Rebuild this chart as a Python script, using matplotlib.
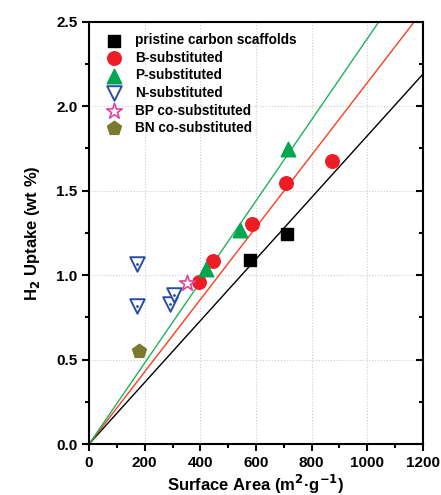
import numpy as np
import matplotlib
matplotlib.use('Agg')
import matplotlib.pyplot as plt
from matplotlib.ticker import MultipleLocator

plt.rcParams['font.family'] = ['Liberation Sans', 'DejaVu Sans']
plt.rcParams['font.weight'] = 'bold'
plt.rcParams['mathtext.default'] = 'bf'

# data
pristine_x = [578, 710]
pristine_y = [1.09, 1.245]
b_x = [396, 447, 585, 708, 874]
b_y = [0.962, 1.084, 1.305, 1.545, 1.675]
p_x = [420, 543, 714]
p_y = [1.035, 1.27, 1.745]
n_x = [174, 174, 291, 307]
n_y = [1.066, 0.818, 0.829, 0.883]
bp_x = [351]
bp_y = [0.952]
bn_x = [181]
bn_y = [0.548]

# slopes of the fitted lines through the origin
slope_pristine = 0.001825
slope_b = 0.002139
slope_p = 0.0024

fig = plt.figure(figsize=(4.41, 4.95), dpi=100)
ax = fig.add_axes([0.202, 0.103, 0.757, 0.853])

xx = np.array([0, 1200])
ax.plot(xx, slope_pristine * xx, color='black', lw=1.0, zorder=2)
ax.plot(xx, slope_b * xx, color='#FF3B1F', lw=1.0, zorder=2)
ax.plot(xx, slope_p * xx, color='#1FB25A', lw=1.0, zorder=2)

ax.scatter(pristine_x, pristine_y, marker='s', s=70, color='black', zorder=3,
           label='pristine carbon scaffolds')
ax.scatter(b_x, b_y, marker='o', s=95, color='#EE1C24', zorder=3, label='B-substituted')
ax.scatter(p_x, p_y, marker='^', s=110, color='#00A651', zorder=3, label='P-substituted')
ax.scatter(n_x, n_y, marker='v', s=110, facecolor='white', edgecolor='#2B4BA8',
           linewidths=1.4, zorder=3, label='N-substituted')
ax.scatter(n_x, n_y, marker='.', s=4, color='#2B4BA8', zorder=4)
ax.scatter(bp_x, bp_y, marker='*', s=140, facecolor='white', edgecolor='#E0459E',
           linewidths=1.2, zorder=3, label='BP co-substituted')
ax.scatter(bn_x, bn_y, marker='p', s=110, color='#7A7A2E', zorder=3, label='BN co-substituted')

ax.set_xlim(0, 1200)
ax.set_ylim(0, 2.5)
ax.xaxis.set_major_locator(MultipleLocator(200))
ax.xaxis.set_minor_locator(MultipleLocator(100))
ax.yaxis.set_major_locator(MultipleLocator(0.5))
ax.yaxis.set_minor_locator(MultipleLocator(0.25))
ax.yaxis.set_major_formatter(matplotlib.ticker.FormatStrFormatter('%.1f'))

ax.tick_params(axis='both', which='major', direction='out', length=5, width=1.5,
               labelsize=11, right=True)
ax.tick_params(axis='both', which='minor', direction='out', length=3, width=1.5, right=True)
ax.tick_params(axis='y', which='both', labelright=False)
for t in ax.yaxis.get_major_ticks() + ax.yaxis.get_minor_ticks():
    t.tick2line.set_marker(matplotlib.lines.TICKLEFT)

for sp in ax.spines.values():
    sp.set_linewidth(1.5)

ax.grid(True, which='major', linestyle=':', color='#cccccc', lw=0.8)
ax.set_axisbelow(True)

ax.set_xlabel('Surface Area (m$^{2}$·g$^{-1}$)', fontsize=12, fontweight='bold', labelpad=2)
ax.set_ylabel('H$_{2}$ Uptake (wt %)', fontsize=12, fontweight='bold', labelpad=10)

ax.legend(loc='upper left', frameon=False, handletextpad=0.55,
          labelspacing=0.26, borderaxespad=0.45, bbox_to_anchor=(0.0, 1.0),
          prop={'weight': 'bold', 'size': 9.8})

fig.savefig('out.png', dpi=100)
